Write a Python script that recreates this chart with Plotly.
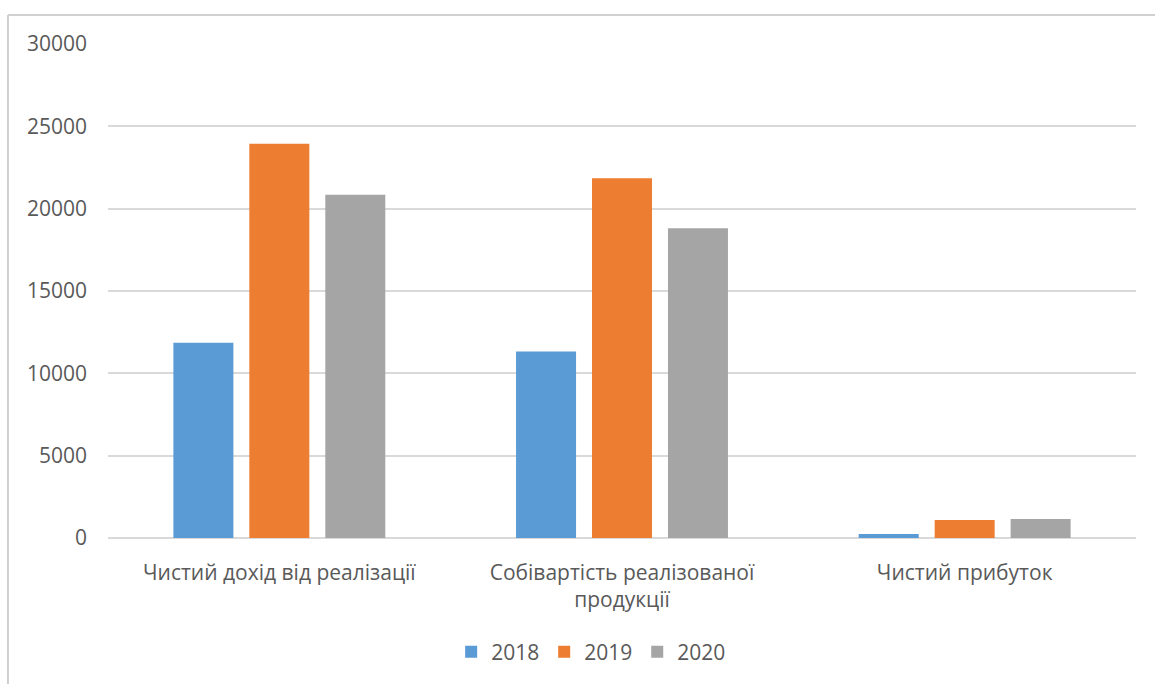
import plotly.graph_objects as go

categories = ["Чистий дохід від реалізації", "Собівартість реалізованої<br>продукції", "Чистий прибуток"]
series_names = ["2018", "2019", "2020"]
values_2018 = [11850, 11320, 240]
values_2019 = [23940, 21850, 1090]
values_2020 = [20840, 18810, 1150]
colors = ["#5B9BD5", "#ED7D31", "#A5A5A5"]
y_ticks = [0, 5000, 10000, 15000, 20000, 25000, 30000]

fig = go.Figure()
for name, vals, col in zip(series_names, [values_2018, values_2019, values_2020], colors):
    fig.add_trace(go.Bar(name=name, x=categories, y=vals, marker=dict(color=col, line=dict(width=0))))

FONT = "Open Sans"
fig.update_layout(
    width=1155, height=684,
    margin=dict(l=108, r=19, t=44, b=146, autoexpand=False),
    paper_bgcolor="white", plot_bgcolor="white",
    barmode="group", bargap=0.335, bargroupgap=0.21,
    font=dict(family=FONT, size=20, color="#595959"),
    showlegend=True,
    legend=dict(orientation="h", x=0.47, xanchor="center", y=-0.231, yanchor="middle",
                font=dict(size=21, color="#595959"), itemwidth=30, traceorder="normal"),
    xaxis=dict(showgrid=False, showline=False, ticks="", ticklabelstandoff=20,
               tickfont=dict(size=21, color="#595959")),
    yaxis=dict(range=[0, 30000], tickvals=y_ticks, ticktext=[str(v) for v in y_ticks],
               showgrid=True, gridcolor="#D9D9D9", gridwidth=1.5, zeroline=True,
               zerolinecolor="#D9D9D9", zerolinewidth=1.5, showline=False, ticks="",
               ticklabelstandoff=20, tickfont=dict(size=21, color="#595959")),
    shapes=[
        dict(type="line", xref="paper", yref="paper", x0=-0.0973, x1=1.05, y0=1.0587, y1=1.0587,
             line=dict(color="#D0D0D0", width=2)),
        dict(type="line", xref="paper", yref="paper", x0=-0.0973, x1=-0.0973, y0=1.0587, y1=-0.35,
             line=dict(color="#D0D0D0", width=2)),
    ],
)
fig.write_html("out.html")
